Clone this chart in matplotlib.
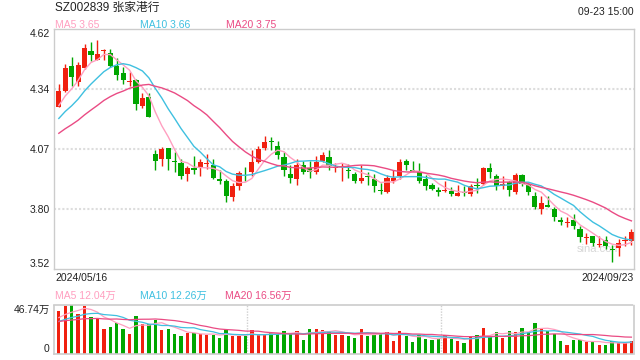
import numpy as np
import pandas as pd
import matplotlib
matplotlib.use('Agg')
import matplotlib.pyplot as plt

plt.rcParams['font.family'] = ['Liberation Sans', 'Noto Sans CJK SC', 'DejaVu Sans']

# Daily candles 2024/05/16 - 2024/09/23
opens = [4.261, 4.337, 4.449, 4.379, 4.440, 4.519, 4.479, 4.519, 4.510, 4.452,
         4.418, 4.379, 4.386, 4.269, 4.307, 4.047, 4.024, 4.075, 4.013, 4.006,
         3.955, 3.983, 3.989, 4.002, 3.997, 3.932, 3.925, 3.848, 3.899, 3.948,
         3.963, 4.009, 4.075, 4.105, 4.082, 4.032, 3.955, 3.932, 3.997, 3.981,
         3.966, 4.016, 4.032, 3.984, 3.986, 3.974, 3.955, 3.925, 3.948, 3.932,
         3.882, 3.874, 3.925, 3.948, 4.013, 3.975, 3.966, 3.932, 3.906, 3.882,
         3.877, 3.879, 3.856, 3.874, 3.864, 3.906, 3.910, 3.983, 3.948, 3.899,
         3.917, 3.874, 3.951, 3.910, 3.856, 3.795, 3.813, 3.795, 3.746, 3.732,
         3.744, 3.703, 3.660, 3.670, 3.630, 3.653, 3.612, 3.615, 3.647, 3.647]
highs = [4.368, 4.460, 4.490, 4.467, 4.551, 4.559, 4.570, 4.528, 4.528, 4.486,
         4.444, 4.421, 4.391, 4.325, 4.325, 4.065, 4.078, 4.075, 4.055, 4.024,
         3.994, 4.036, 4.024, 4.045, 4.024, 3.975, 3.932, 3.914, 3.971, 3.986,
         4.065, 4.085, 4.128, 4.126, 4.105, 4.055, 3.997, 4.024, 4.016, 4.016,
         4.036, 4.055, 4.065, 4.004, 4.004, 4.001, 3.966, 3.997, 3.963, 3.955,
         3.914, 3.952, 3.975, 4.024, 4.024, 4.015, 4.004, 3.951, 3.914, 3.894,
         3.925, 3.894, 3.906, 3.902, 3.910, 3.936, 3.986, 4.006, 3.955, 3.948,
         3.925, 3.958, 3.955, 3.914, 3.871, 3.856, 3.853, 3.803, 3.757, 3.757,
         3.772, 3.719, 3.685, 3.673, 3.673, 3.670, 3.630, 3.657, 3.673, 3.703]
lows = [4.261, 4.330, 4.360, 4.360, 4.437, 4.475, 4.479, 4.479, 4.444, 4.388,
        4.368, 4.360, 4.249, 4.258, 4.218, 3.975, 3.994, 3.975, 3.966, 3.932,
        3.925, 3.955, 3.945, 3.978, 3.932, 3.910, 3.826, 3.833, 3.884, 3.925,
        3.948, 4.006, 4.067, 4.067, 4.024, 3.948, 3.914, 3.905, 3.955, 3.935,
        3.955, 4.009, 3.975, 3.966, 3.925, 3.935, 3.914, 3.914, 3.906, 3.874,
        3.864, 3.867, 3.914, 3.932, 3.975, 3.971, 3.914, 3.884, 3.882, 3.856,
        3.871, 3.856, 3.856, 3.856, 3.856, 3.867, 3.905, 3.935, 3.884, 3.887,
        3.856, 3.864, 3.899, 3.861, 3.795, 3.772, 3.806, 3.741, 3.722, 3.714,
        3.703, 3.642, 3.635, 3.627, 3.622, 3.612, 3.550, 3.581, 3.627, 3.630]
closes = [4.337, 4.441, 4.401, 4.455, 4.533, 4.502, 4.505, 4.522, 4.452, 4.411,
          4.388, 4.383, 4.276, 4.304, 4.218, 4.016, 4.070, 4.024, 4.009, 3.948,
          3.981, 3.975, 4.012, 4.003, 3.937, 3.925, 3.856, 3.902, 3.960, 3.945,
          4.012, 4.070, 4.100, 4.100, 4.042, 3.975, 3.937, 3.997, 3.966, 3.966,
          4.009, 4.042, 3.994, 3.989, 3.991, 3.969, 3.925, 3.936, 3.940, 3.902,
          3.879, 3.937, 3.937, 4.009, 3.997, 3.971, 3.925, 3.902, 3.887, 3.874,
          3.882, 3.864, 3.870, 3.867, 3.899, 3.902, 3.983, 3.966, 3.902, 3.910,
          3.884, 3.952, 3.910, 3.871, 3.806, 3.822, 3.806, 3.757, 3.737, 3.737,
          3.715, 3.665, 3.665, 3.639, 3.635, 3.624, 3.607, 3.638, 3.653, 3.688]
# volume in 万 shares
volumes = [41.0, 46.0, 46.74, 38.2, 45.8, 35.7, 33.2, 24.0, 25.3, 30.0,
           24.0, 19.3, 36.3, 28.7, 28.7, 32.5, 23.1, 24.0, 19.3, 17.4,
           20.5, 19.9, 18.9, 17.7, 18.3, 15.5, 23.4, 16.7, 16.7, 16.7,
           22.7, 18.3, 18.3, 19.9, 19.3, 22.1, 18.9, 22.1, 13.6, 24.0,
           24.0, 23.1, 22.1, 18.3, 18.3, 17.4, 15.5, 24.0, 17.4, 18.3,
           19.9, 20.8, 12.6, 22.1, 17.4, 11.7, 18.3, 14.5, 13.6, 14.2,
           18.3, 14.5, 12.6, 10.7, 17.4, 18.3, 24.9, 16.7, 21.2, 15.5,
           22.1, 21.2, 24.9, 21.2, 29.7, 24.9, 22.1, 19.3, 12.6, 8.8,
           13.6, 13.6, 11.7, 11.7, 8.8, 8.8, 12.6, 10.7, 10.7, 12.6]

# sessions before 05/16, estimated so the moving averages start where they do
prev_close = [4.02, 4.03, 4.05, 4.04, 4.06, 4.08, 4.07, 4.10, 4.12, 4.17,
              4.12, 4.14, 4.15, 4.16, 4.185, 4.22, 4.24, 4.26, 4.288]
prev_vol = [30, 34, 28, 31, 35, 29, 33, 30, 27, 33,
            25, 29, 26, 28, 28.5, 31, 36, 30, 35.5]

price_ticks = [3.52, 3.795, 4.07, 4.345, 4.62]
price_labels = ['3.52', '3.80', '4.07', '4.34', '4.62']

RED = '#f0200f'
GREEN = '#00a600'
MA_COLORS = {5: '#ff9fc0', 10: '#3fc0e0', 20: '#ea4b84'}

n = len(closes)
x = np.arange(n)
o = np.array(opens); c = np.array(closes)
colors = [RED if cc >= oo else GREEN for oo, cc in zip(o, c)]

close_all = pd.Series(prev_close + closes)
vol_all = pd.Series(prev_vol + volumes)
k = len(prev_close)

fig = plt.figure(figsize=(6.4, 3.6), dpi=100)
W, H = 640, 360

def px(xp, yp):
    return xp / W, 1 - yp / H

# price panel
ax = fig.add_axes([54 / W, 1 - 269 / H, 580 / W, 240 / H])
ax.vlines(x, lows, highs, colors=colors, linewidth=1)
body_bot = np.minimum(o, c)
body_h = np.maximum(np.abs(c - o), 0.003)
ax.bar(x, body_h, bottom=body_bot, width=0.8, color=colors, linewidth=0)
for win, col in MA_COLORS.items():
    ma = close_all.rolling(win).mean().iloc[k:].values
    ax.plot(x, ma, color=col, linewidth=1.0)

for t in price_ticks[1:-1]:
    ax.axhline(t, color='#dddddd', linewidth=1.5, linestyle=(0, (1, 1)), zorder=0)
ax.set_xlim(-0.75, n - 0.6)
ax.set_ylim(3.52, 4.62)
ax.set_xticks([])
ax.set_yticks(price_ticks, price_labels)
ax.tick_params(axis='y', length=0, pad=3, labelsize=7.5, labelcolor='#222222')
tl = ax.get_yticklabels()
tl[0].set_va('bottom')
tl[-1].set_va('top')
for s in ax.spines.values():
    s.set_color('#cccccc')
    s.set_linewidth(1)
# watermark, behind the candles
ax.text(*px(599, 249), 'sina.com', color='#d6d6d6', fontsize=8,
        ha='center', va='center', transform=fig.transFigure, zorder=0)

# volume panel
axv = fig.add_axes([54 / W, 1 - 354 / H, 580 / W, 49 / H])
axv.bar(x, volumes, width=0.52, color=colors, linewidth=0)
for win, col in MA_COLORS.items():
    ma = vol_all.rolling(win).mean().iloc[k:].values
    axv.plot(x, ma, color=col, linewidth=0.9)
axv.set_xlim(-0.75, n - 0.6)
axv.set_ylim(0, max(volumes))
axv.set_xticks([])
axv.set_yticks([0, max(volumes)], ['0', '46.74万'])
axv.tick_params(axis='y', length=0, pad=3, labelsize=7.5, labelcolor='#222222')
vl = axv.get_yticklabels()
vl[0].set_va('bottom')
vl[1].set_va('top')
for fr in (1 / 3, 2 / 3):
    axv.axvline(fr * (n - 0.6 + 0.75) - 0.75, color='#d0d0d0', linewidth=1,
                linestyle=(0, (1, 1)), zorder=0)
for s in axv.spines.values():
    s.set_color('#cccccc')
    s.set_linewidth(1.2)
    s.set_linestyle((0, (1, 1)))

# texts
fig.text(*px(55, 8), 'SZ002839 张家港行', fontsize=8.5, color='#222222', va='center')
fig.text(*px(634, 12), '09-23 15:00', fontsize=7.5, color='#222222', va='center', ha='right')
fig.text(*px(55, 24.5), 'MA5 3.65', fontsize=7.5, color=MA_COLORS[5], va='center')
fig.text(*px(140.5, 24.5), 'MA10 3.66', fontsize=7.5, color=MA_COLORS[10], va='center')
fig.text(*px(225.5, 24.5), 'MA20 3.75', fontsize=7.5, color=MA_COLORS[20], va='center')
fig.text(*px(55, 278), '2024/05/16', fontsize=7.5, color='#222222', va='center')
fig.text(*px(634, 278), '2024/09/23', fontsize=7.5, color='#222222', va='center', ha='right')
fig.text(*px(55, 295.5), 'MA5 12.04万', fontsize=7.5, color=MA_COLORS[5], va='center')
fig.text(*px(140, 295.5), 'MA10 12.26万', fontsize=7.5, color=MA_COLORS[10], va='center')
fig.text(*px(225, 295.5), 'MA20 16.56万', fontsize=7.5, color=MA_COLORS[20], va='center')

fig.savefig('out.png', dpi=100)
